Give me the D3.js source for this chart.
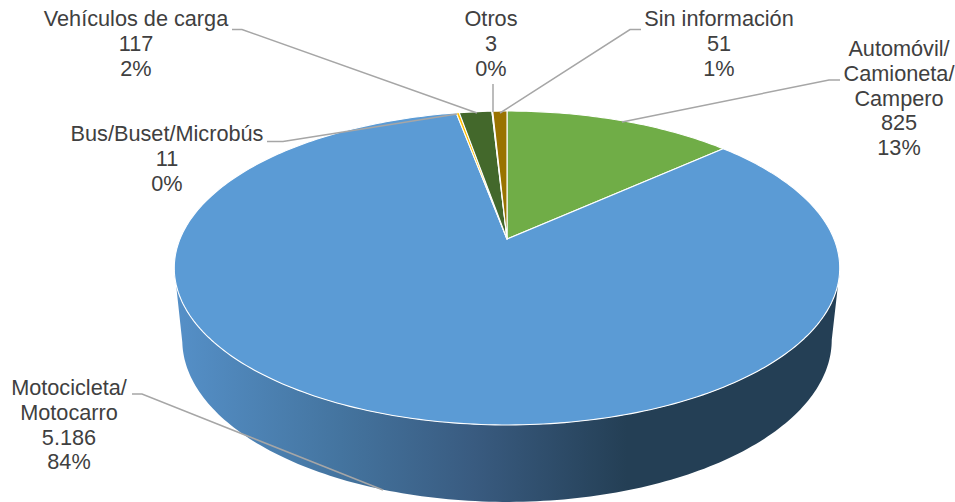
<!DOCTYPE html>
<html>
<head>
<meta charset="utf-8">
<script src="https://cdn.jsdelivr.net/npm/d3@7"></script>
<style>
  html, body { margin: 0; padding: 0; background: #fff; }
  svg { display: block; }
  text { font-family: "Liberation Sans", Arial, sans-serif; font-size: 21.7px; fill: #404040; }
</style>
</head>
<body>
<div id="container"></div>
<script>
const categories = ["Automóvil/\nCamioneta/\nCampero", "Motocicleta/\nMotocarro", "Bus/Buset/Microbús", "Vehículos de carga", "Otros", "Sin información"];
const values = [825, 5186, 11, 117, 3, 51];
const colors = ["#70ad47", "#5b9bd5", "#ffc000", "#43682b", "#d6dce5", "#997300"];

// label anchor (centre x, first baseline) and leader line for each category
const labelPos = [[899, 56], [69, 395], [167, 141], [136, 26], [491, 26], [719, 26]];
const leaders = [
  [[840, 80], [829, 80], [622, 122]],
  [[132, 394], [142, 394], [383, 490]],
  [[267, 141.5], [283, 141.5], [457, 114]],
  [[232, 29.5], [242, 29.5], [477, 113]],
  [[493, 84], [493, 112]],
  [[641, 29.5], [630, 29.5], [500, 113]]
];

const width = 955, height = 502;
const cx = 507, apexY = 239;
const a = 327, b = 151.6, k = -0.1847;   // tilted circle, near edge is bigger
const bottomSx = 0.976, bottomSy = 1.032, bottomY = 310;

const svg = d3.select("#container").append("svg")
  .attr("width", width)
  .attr("height", height);

// angle runs clockwise from the top of the pie
const rim = (angle, sx = 1, sy = 1, y0 = apexY) => {
  const u = Math.sin(angle), v = -Math.cos(angle);
  const d = 1 + k * v;
  return [cx + sx * a * u / d, y0 + sy * b * v / d];
};

const line = d3.line();

const grad = svg.append("defs").append("linearGradient")
  .attr("id", "sideShade")
  .attr("gradientUnits", "userSpaceOnUse")
  .attr("x1", 174).attr("x2", 840).attr("y1", 0).attr("y2", 0);
[[0, "#5590c8"], [0.25, "#44749f"], [0.45, "#395b80"], [0.68, "#243f55"], [1, "#243f55"]].forEach(d => {
  grad.append("stop").attr("offset", d[0]).attr("stop-color", d[1]);
});

// side wall: from the widest point of the top rim round the bottom rim and back
const rightA = Math.acos(-0.1848), leftA = 2 * Math.PI - rightA;
const wall = d3.range(rightA, leftA, Math.PI / 180).map(t => rim(t, bottomSx, bottomSy, bottomY));
const topBack = d3.range(leftA, rightA, -Math.PI / 180).map(t => rim(t));
svg.append("path")
  .attr("d", line(wall.concat(topBack)) + "Z")
  .attr("fill", "url(#sideShade)");

const pie = d3.pie().sort(null).value(d => d);
const arcs = pie(values);

svg.append("g").selectAll("path")
  .data(arcs)
  .join("path")
  .attr("d", d => {
    const steps = Math.max(2, Math.ceil((d.endAngle - d.startAngle) / (Math.PI / 180)));
    const pts = d3.range(steps + 1).map(i => rim(d.startAngle + (d.endAngle - d.startAngle) * i / steps));
    return line([[cx, apexY]].concat(pts)) + "Z";
  })
  .attr("fill", (d, i) => colors[i])
  .attr("stroke", "#fff")
  .attr("stroke-width", 1.1)
  .attr("stroke-linejoin", "round");

svg.append("g").selectAll("path")
  .data(leaders)
  .join("path")
  .attr("d", d => line(d))
  .attr("fill", "none")
  .attr("stroke", "#a6a6a6")
  .attr("stroke-width", 1.5);

const numFmt = d3.formatLocale({decimal: ",", thousands: ".", grouping: [3], currency: ["", ""]}).format(",d");
const pctFmt = d3.format(".0%");
const total = d3.sum(values);

const labels = svg.append("g").selectAll("text")
  .data(categories)
  .join("text")
  .attr("text-anchor", "middle")
  .attr("y", (d, i) => labelPos[i][1]);

labels.each(function(d, i) {
  const rows = d.split("\n").concat([numFmt(values[i]), pctFmt(values[i] / total)]);
  d3.select(this).selectAll("tspan")
    .data(rows)
    .join("tspan")
    .attr("x", labelPos[i][0])
    .attr("dy", (r, j) => j ? 24.8 : 0)
    .text(r => r);
});
</script>
</body>
</html>
